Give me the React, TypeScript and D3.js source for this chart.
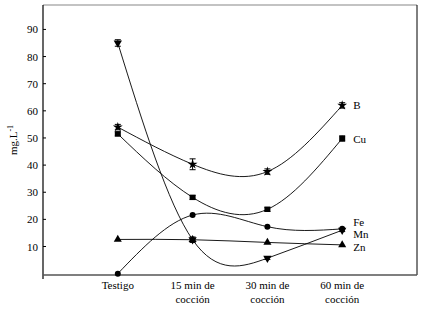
import React from "react";
import * as d3 from "d3";

const categories = ["Testigo", "15 min de|cocción", "30 min de|cocción", "60 min de|cocción"];
const yTicks = [10, 20, 30, 40, 50, 60, 70, 80, 90];

const B = [54, 40.3, 37.6, 62];
const Cu = [51.5, 28.1, 23.7, 49.8];
const Fe = [0, 21.6, 17.3, 16.5];
const Mn = [85, 12.5, 5.7, 16];
const Zn = [12.6, 12.5, 11.5, 10.6];

const Berr = [1, 2, 1, 1];
const Cuerr = [0.8, 0.8, 0.8, 1];
const Mnerr = [1.2, 1, 0.5, 0.5];

const seriesList = [
  { name: "B", values: B, err: Berr, symbol: "star" },
  { name: "Cu", values: Cu, err: Cuerr, symbol: "square" },
  { name: "Fe", values: Fe, err: null, symbol: "circle" },
  { name: "Mn", values: Mn, err: Mnerr, symbol: "down" },
  { name: "Zn", values: Zn, err: null, symbol: "up" },
];

const labels = [
  { name: "B", value: 62 },
  { name: "Cu", value: 49.8 },
  { name: "Fe", value: 19.2 },
  { name: "Mn", value: 14.6 },
  { name: "Zn", value: 10.0 },
];

const W = 422, H = 313;
const left = 43, right = 417, top = 5, bottom = 275;
const FONT = "Liberation Serif, DejaVu Serif, serif";

export default function App() {
  const x = d3.scaleLinear().domain([0, 5]).range([left, right]);
  const y = d3.scaleLinear().domain([-0.5, 99]).range([bottom, top]);
  const line = d3
    .line<number>()
    .x((_, i) => x(i + 1))
    .y((v) => y(v))
    .curve(d3.curveNatural);

  const sym = (type: string, cx: number, cy: number, key: string) => {
    if (type === "square") {
      return <rect key={key} x={cx - 3} y={cy - 2.5} width={6} height={5} fill="#000" />;
    }
    if (type === "circle") {
      return <circle key={key} cx={cx} cy={cy} r={3} fill="#000" />;
    }
    if (type === "up") {
      const p = d3.symbol().type(d3.symbolTriangle).size(28)();
      return <path key={key} d={p || ""} transform={`translate(${cx},${cy})`} fill="#000" />;
    }
    if (type === "down") {
      const p = d3.symbol().type(d3.symbolTriangle).size(30)();
      return <path key={key} d={p || ""} transform={`translate(${cx},${cy}) rotate(180)`} fill="#000" />;
    }
    const p = d3.symbol().type(d3.symbolStar).size(30)();
    return <path key={key} d={p || ""} transform={`translate(${cx},${cy})`} fill="#000" />;
  };

  return (
    <svg
      width={W}
      height={H}
      fontFamily={FONT}
      style={{ position: "absolute", left: 0, top: 0, background: "#fff" }}
    >
      <rect x={0} y={0} width={W} height={H} fill="#fff" />
      <line x1={left} y1={top} x2={right} y2={top} stroke="#888" strokeWidth={1.2} />
      <line x1={right} y1={top} x2={right} y2={bottom} stroke="#000" strokeWidth={1} />
      <line x1={left} y1={top} x2={left} y2={bottom + 4} stroke="#000" strokeWidth={1.2} />
      <line x1={left} y1={bottom} x2={right} y2={bottom} stroke="#555" strokeWidth={1.5} />

      {yTicks.map((t) => (
        <g key={t}>
          <line x1={left} x2={left + 3} y1={y(t)} y2={y(t)} stroke="#000" />
          <text x={left - 5} y={y(t) + 4} fontSize={11} textAnchor="end" fill="#000" fontFamily={FONT}>
            {t}
          </text>
        </g>
      ))}

      <text
        transform={`translate(17,${140}) rotate(-90)`}
        fontSize={11}
        textAnchor="middle"
        fill="#000"
        fontFamily={FONT}
      >
        mg.L<tspan dy={-4} fontSize={8}>-1</tspan>
      </text>

      {categories.map((c, i) => {
        const parts = c.split("|");
        return (
          <text key={c} x={x(i + 1)} y={bottom + 14} fontSize={11} textAnchor="middle" fill="#000" fontFamily={FONT}>
            {parts.map((p, j) => (
              <tspan key={j} x={x(i + 1)} dy={j === 0 ? 0 : 14}>
                {p}
              </tspan>
            ))}
          </text>
        );
      })}

      {seriesList.map((s) => (
        <path key={s.name} d={line(s.values) || ""} fill="none" stroke="#000" strokeWidth={0.9} />
      ))}

      {seriesList.map((s) =>
        s.err
          ? s.values.map((v, i) => {
              const e = s.err![i];
              const cx = x(i + 1);
              return (
                <g key={s.name + "e" + i} stroke="#000" strokeWidth={1}>
                  <line x1={cx} x2={cx} y1={y(v + e)} y2={y(v - e)} />
                  <line x1={cx - 3} x2={cx + 3} y1={y(v + e)} y2={y(v + e)} />
                  <line x1={cx - 3} x2={cx + 3} y1={y(v - e)} y2={y(v - e)} />
                </g>
              );
            })
          : null
      )}

      {seriesList.map((s) => s.values.map((v, i) => sym(s.symbol, x(i + 1), y(v), s.name + i)))}

      {labels.map((l) => (
        <text key={l.name} x={x(4) + 11} y={y(l.value) + 4} fontSize={11} fill="#000" fontFamily={FONT}>
          {l.name}
        </text>
      ))}
    </svg>
  );
}
